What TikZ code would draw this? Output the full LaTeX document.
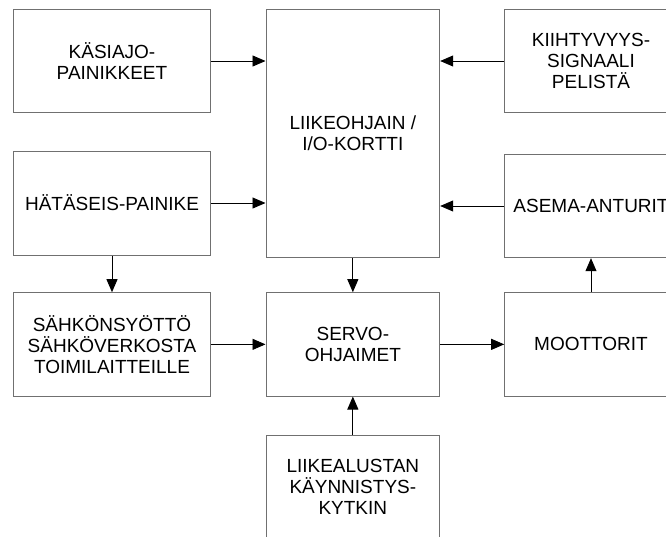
\documentclass[tikz,border=0pt]{standalone}
\usepackage{fontspec}
\setmainfont{Liberation Sans}
\usetikzlibrary{arrows.meta}
\definecolor{boxline}{HTML}{707070}
\tikzset{
  blockbox/.style={draw=boxline, line width=1pt, fill=white, rectangle,
    inner sep=0pt, align=center,
    font=\fontsize{19}{21}\selectfont},
  flow/.style={draw=black, line width=0.9pt,
    -{Triangle[length=13pt,width=11pt]}}
}
\begin{document}
\begin{tikzpicture}[x=1pt,y=-1pt]
  \path[use as bounding box] (0,0) rectangle (666,536);
  \clip (0,0) rectangle (666,536);
  \fill[white] (0,0) rectangle (666,536);

  % left column
  \node[blockbox, minimum width=197.4pt, minimum height=103.4pt] (kasi) at (112,61)
    {KÄSIAJO-\\PAINIKKEET};
  \node[blockbox, minimum width=197.4pt, minimum height=104pt] (hata) at (112,203)
    {HÄTÄSEIS-PAINIKE};
  \node[blockbox, minimum width=197.4pt, minimum height=103.3pt] (sahko) at (112,344.35)
    {SÄHKÖNSYÖTTÖ\\SÄHKÖVERKOSTA\\TOIMILAITTEILLE};

  % middle column
  \node[blockbox, minimum width=173.7pt, minimum height=248.4pt] (ohj) at (352.85,133.5)
    {LIIKEOHJAIN /\\I/O-KORTTI};
  \node[blockbox, minimum width=173.7pt, minimum height=103.3pt] (servo) at (352.85,344.35)
    {SERVO-\\OHJAIMET};
  \node[blockbox, minimum width=173.7pt, minimum height=103.4pt] (liike) at (352.85,486.7)
    {LIIKEALUSTAN\\KÄYNNISTYS-\\KYTKIN};

  % right column
  \node[blockbox, minimum width=172.6pt, minimum height=103.4pt] (kiih) at (591,61)
    {KIIHTYVYYS-\\SIGNAALI\\PELISTÄ};
  \node[blockbox, minimum width=172.6pt, minimum height=103.4pt] (asema) at (591,206)
    {ASEMA-ANTURIT};
  \node[blockbox, minimum width=172.6pt, minimum height=103.3pt] (moot) at (591,344.35)
    {MOOTTORIT};

  % signal flow
  \draw[flow] (kasi.east) -- (kasi.east -| ohj.west);
  \draw[flow] (hata.east) -- (hata.east -| ohj.west);
  \draw[flow] (kiih.west) -- (kiih.west -| ohj.east);
  \draw[flow] (asema.west) -- (asema.west -| ohj.east);
  \draw[flow] (hata.south) -- (sahko.north);
  \draw[flow] (ohj.south) -- (servo.north);
  \draw[flow] (sahko.east) -- (servo.west);
  \draw[flow] (servo.east) -- (moot.west);
  \draw[flow] (moot.north) -- (asema.south);
  \draw[flow] (liike.north) -- (servo.south);
\end{tikzpicture}
\end{document}
